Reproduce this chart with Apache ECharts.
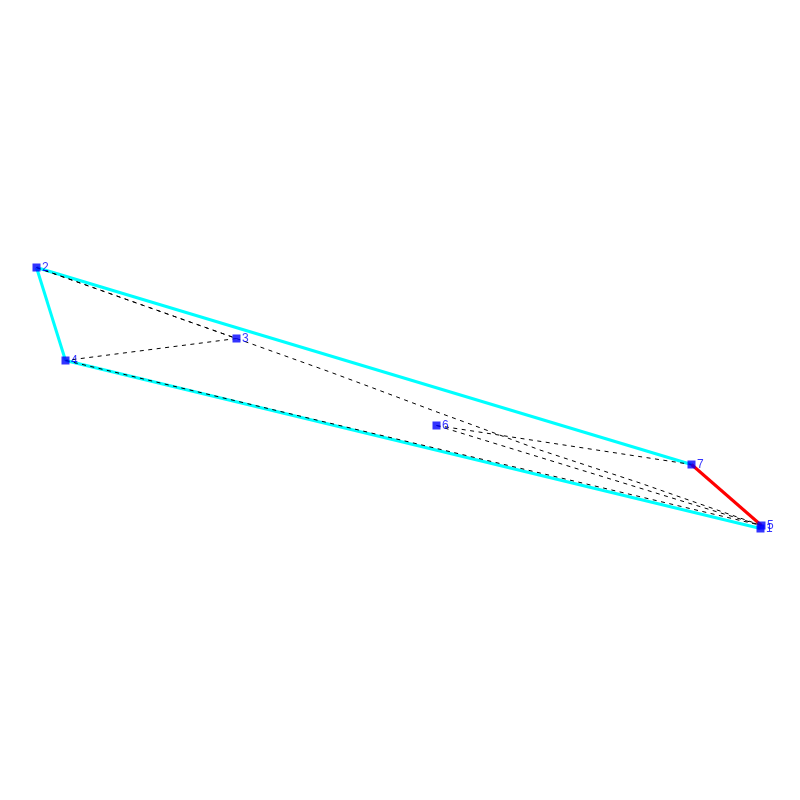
<!DOCTYPE html>
<html>
<head>
<meta charset="utf-8">
<style>html,body{margin:0;padding:0;background:#fff}#c{width:800px;height:800px}</style>
<script src="https://cdn.jsdelivr.net/npm/echarts@6/dist/echarts.min.js"></script>
</head>
<body>
<div id="c"></div>
<script>
const nodeLabels = ['1','2','3','4','5','6','7'];
const nodeX = [760.5,36.5,236.5,65.5,761.5,436.5,691.5];
const nodeY = [528.5,267.5,338.5,360.5,525.5,425.5,464.5];
const hullEdges = [[2,7],[4,1],[2,4]];
const redEdges = [[7,5]];
const dashedEdges = [[2,3],[2,3],[3,4],[4,5],[6,5],[6,7]];
const bentEdgeX = [236.5,330,373,437,470,540,640,761.5];
const bentEdgeY = [338.5,372,388,412,424,450,483,525.5];

const pt = i => [nodeX[i-1], nodeY[i-1]];
const path = (data, color, width, type, z) => ({
  type:'line', data, symbol:'none', silent:true, animation:false, z,
  lineStyle:{color, width, type}
});
const chart = echarts.init(document.getElementById('c'), null, {renderer:'canvas'});
chart.setOption({
  animation:false,
  backgroundColor:'#fff',
  grid:{left:0,right:0,top:0,bottom:0},
  xAxis:{type:'value',min:0,max:800,show:false},
  yAxis:{type:'value',min:0,max:800,inverse:true,show:false},
  series:[
    ...hullEdges.map(p=>path(p.map(pt),'#00ffff',3,'solid',2)),
    ...redEdges.map(p=>path(p.map(pt),'#ff0000',3,'solid',3)),
    ...dashedEdges.map(p=>path(p.map(pt),'#000000',1,[4,4.5],4)),
    path(bentEdgeX.map((x,i)=>[x,bentEdgeY[i]]),'#000000',1,[4,4.5],4),
    {
      type:'scatter', z:5, symbol:'rect', symbolSize:8, silent:true,
      data:nodeLabels.map((n,i)=>({value:[nodeX[i],nodeY[i]],name:n})),
      itemStyle:{color:'#0000ff'},
      label:{show:true,position:'right',distance:1.5,formatter:'{b}',color:'#0000ff',
        fontFamily:'Liberation Sans',fontSize:12}
    }
  ]
});
</script>
</body>
</html>
